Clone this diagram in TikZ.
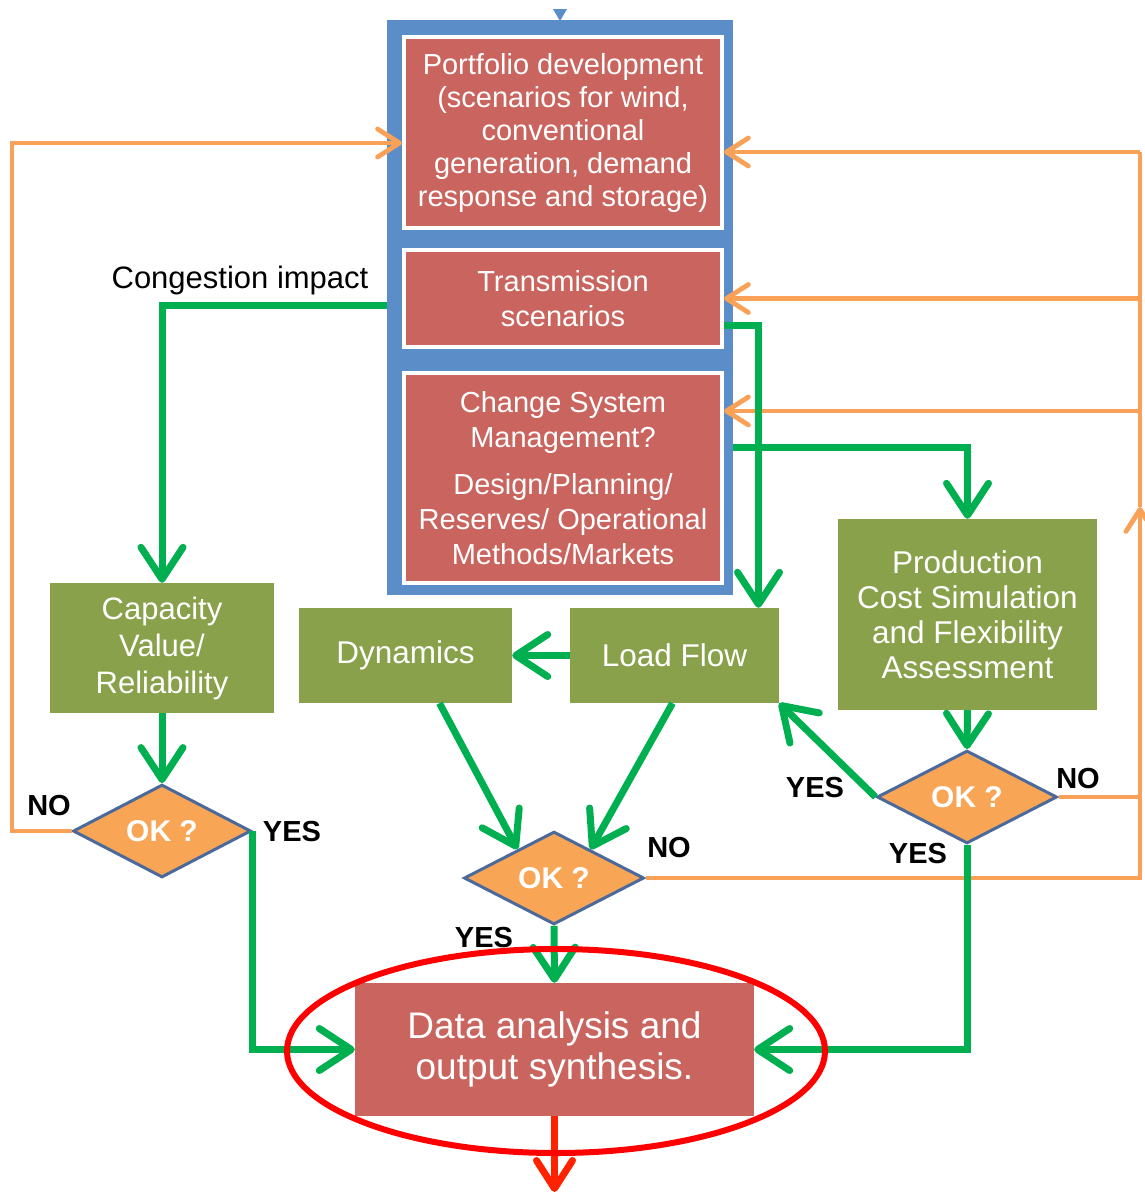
\documentclass[tikz,border=0pt]{standalone}
\usepackage{fontspec}
\setmainfont{Liberation Sans}
\usetikzlibrary{shapes.geometric,arrows.meta,calc}

\definecolor{boxred}{HTML}{CA645E}
\definecolor{boxolive}{HTML}{89A14A}
\definecolor{frameblue}{HTML}{5B8DC9}
\definecolor{okfill}{HTML}{F8A656}
\definecolor{okborder}{HTML}{4B699B}
\definecolor{flowgreen}{HTML}{00B050}
\definecolor{backorange}{HTML}{F9A257}
\definecolor{outred}{HTML}{FF2200}

\begin{document}
\begin{tikzpicture}[x=1pt,y=-1pt,
  redbox/.style={rectangle, fill=boxred, draw=white, line width=4pt, text=white,
    align=center, inner sep=0pt, font=\fontsize{29}{33}\selectfont},
  olivebox/.style={rectangle, fill=boxolive, text=white, align=center, inner sep=0pt,
    font=\fontsize{31.5}{36}\selectfont},
  okdiamond/.style={diamond, fill=okfill, draw=okborder, line width=3pt, text=white,
    inner sep=0pt, font=\bfseries\fontsize{30}{30}\selectfont},
  tag/.style={font=\bfseries\fontsize{29}{29}\selectfont, text=black, inner sep=0pt},
  flow/.style={draw=flowgreen, line width=7pt, -{Straight Barb[length=32pt,width=42pt,round]}},
  back/.style={draw=backorange, line width=4.8pt, -{Straight Barb[length=22pt,width=28pt,round]}},
  rail/.style={draw=backorange, line width=4.8pt}]

\useasboundingbox (0,0) rectangle (1145,1195);

% scenario frame with its three stages
\fill[frameblue] (553,9) -- (567,9) -- (560,21) -- cycle;
\node[fill=frameblue, minimum width=346pt, minimum height=575pt, inner sep=0pt] (frame) at (560,307.5) {};
\node[redbox, minimum width=318pt, minimum height=191pt] (port) at (563,132.5)
  {Portfolio development\\(scenarios for wind,\\conventional\\generation, demand\\response and storage)};
\node[redbox, minimum width=318pt, minimum height=97pt, font=\fontsize{29}{35}\selectfont] (trans) at (563,298.5)
  {Transmission\\scenarios};
\node[redbox, minimum width=318pt, minimum height=210pt, font=\fontsize{29}{35}\selectfont] (chg) at (563,478)
  {Change System\\Management?\\[12pt]Design/Planning/\\Reserves/ Operational\\Methods/Markets};

% analysis stages
\node[olivebox, minimum width=224pt, minimum height=130pt, font=\fontsize{31}{37}\selectfont] (cap) at (162,648)
  {Capacity\\Value/\\Reliability};
\node[olivebox, minimum width=213pt, minimum height=95pt] (dyn) at (405.5,655.5) {Dynamics};
\node[olivebox, minimum width=209pt, minimum height=95pt] (lf) at (674.5,655.5) {Load Flow};
\node[olivebox, minimum width=259pt, minimum height=191pt, font=\fontsize{31.5}{35}\selectfont] (prod) at (967.5,614.5)
  {Production\\Cost Simulation\\and Flexibility\\Assessment};

% decisions
\node[okdiamond, minimum width=178pt, minimum height=84pt] (okL) at (162,831) {OK ?};
\node[okdiamond, minimum width=180pt, minimum height=84pt] (okM) at (554,878) {OK ?};
\node[okdiamond, minimum width=180pt, minimum height=82pt] (okR) at (967,797) {OK ?};

% result
\node[rectangle, fill=boxred, text=white, align=center, inner sep=0pt,
  minimum width=399pt, minimum height=133pt, font=\fontsize{37}{41}\selectfont] (data) at (554.5,1049.5)
  {Data analysis and\\output synthesis.};

% labels
\node[font=\fontsize{31}{31}\selectfont, inner sep=0pt] (cong) at (240,280) {Congestion impact};
\node[tag] (noL) at (49,806) {NO};
\node[tag] (yesL) at (292,832) {YES};
\node[tag] (noM) at (669,848) {NO};
\node[tag] (yesM) at (484,938) {YES};
\node[tag] (yesRL) at (815,788) {YES};
\node[tag] (yesRB) at (918,854) {YES};
\node[tag] (noR) at (1078,779) {NO};

% rails of the feedback loops
\coordinate (lrail) at (12,500);
\coordinate (rrail) at (1140,500);
\coordinate (rup) at (1140,507);
\coordinate (rtop) at (1140,152);

% feedback (orange)
\draw[back] (okL.west) -| (lrail) |- ([yshift=-10.5pt]port.west);
\draw[rail] (okR.east) -- (okR.east -| rrail);
\draw[back] (okM.east) -| (rup);
\draw[rail] (rup) -- (rtop);
\draw[back] (rtop) -- ([yshift=-19.5pt]port.east);
\draw[back] (trans.east -| rrail) -- (trans.east);
\draw[back] ([yshift=67pt]chg.east -| rrail) -- ([yshift=67pt]chg.east);

% forward flow (green)
\draw[flow] ([yshift=-6.5pt]frame.west |- trans.west) -| (cap.north);
\draw[flow] ([yshift=-26.5pt]trans.east) -| ([xshift=84pt]lf.north);
\draw[flow] ([yshift=31pt]frame.east |- chg.east) -| (prod.north);
\draw[flow] (lf.west) -- (dyn.east);
\draw[flow] ([xshift=34pt]dyn.south) -- ($(okM.north)!0.4!(okM.west)$);
\draw[flow] ([xshift=-2pt]lf.south) -- ($(okM.north)!0.4!(okM.east)$);
\draw[flow] (cap.south) -- (okL.north);
\draw[flow] (prod.south) -- (okR.north);
\draw[flow] (okR.west) -- (lf.south east);
\draw[flow] (okL.east) |- (data.west);
\draw[flow] (okR.south) |- (data.east);
\draw[flow] (okM.south) -- (data.north);

% output
\coordinate (out) at (554.5,1192);
\draw[draw=outred, line width=7pt, -{Straight Barb[length=28pt,width=36pt,round]}] (data.south) -- (out);

% highlight ring
\node[draw=red, line width=6pt, ellipse, minimum width=538pt, minimum height=204pt, inner sep=0pt] (ring) at (556,1051) {};
\end{tikzpicture}
\end{document}
